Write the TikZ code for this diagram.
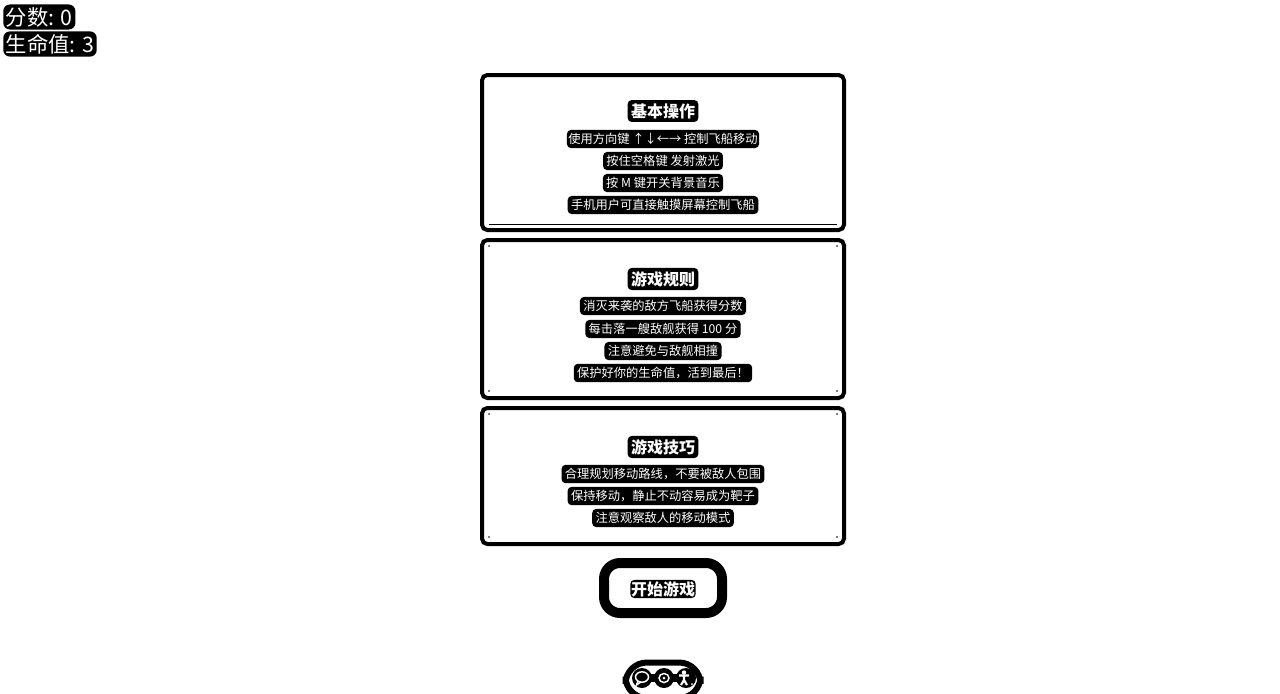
\documentclass[tikz,border=0pt]{standalone}
\usepackage{fontspec}
\setmainfont{Noto Sans CJK SC}
\tikzset{
  card/.style={draw=black, line width=3pt, rounded corners=4pt},
  halo/.style={fill=black, text=white, rounded corners=3pt, inner xsep=2.5pt, inner ysep=2.5pt},
  cardtitle/.style={halo, font=\fontsize{12}{14}\selectfont\bfseries},
  cardline/.style={halo, font=\fontsize{9.2}{11}\selectfont},
  score/.style={halo, font=\fontsize{16}{18}\selectfont, anchor=west, inner xsep=2pt, inner ysep=2pt, rounded corners=5pt},
  iconline/.style={draw=white, line width=1.1pt},
}
\begin{document}
\begin{tikzpicture}[x=0.75pt, y=-0.75pt]
\useasboundingbox (0,0) rectangle (1280,693);
\fill[white] (0,0) rectangle (1280,693);
% score
\node[score] (lifelabel) at (3,44) {生命值: 3};
\node[score] (scorelabel) at (3,17) {分数: 0};
% cards
\draw[card] (482,75) rectangle (844,230);
\draw[card] (482,240) rectangle (844,398);
\draw[card] (482,408) rectangle (844,544);
\draw[line width=0.6pt] (489,224) -- (837,224); % rule
\foreach \px/\py in {489/246,837/246,489/391,837/391,489/414,837/414,489/537,837/537}
  \fill (\px,\py) circle (0.7pt);
% card one
\node[cardtitle] (basictitle) at (663,111) {基本操作};
\node[cardline, inner xsep=1pt] (basica) at (663,139) {使用方向键 ↑↓←→ 控制飞船移动};
\node[cardline] (basicb) at (663,161) {按住空格键 发射激光};
\node[cardline] (basicc) at (663,183) {按 M 键开关背景音乐};
\node[cardline] (basicd) at (663,205) {手机用户可直接触摸屏幕控制飞船};
% card two
\node[cardtitle] (ruletitle) at (663,279) {游戏规则};
\node[cardline] (rulea) at (663,306) {消灭来袭的敌方飞船获得分数};
\node[cardline] (ruleb) at (663,329) {每击落一艘敌舰获得 100 分};
\node[cardline] (rulec) at (663,351) {注意避免与敌舰相撞};
\node[cardline] (ruled) at (663,373) {保护好你的生命值，活到最后！};
% card three
\node[cardtitle] (tiptitle) at (663,447) {游戏技巧};
\node[cardline] (tipa) at (663,474) {合理规划移动路线，不要被敌人包围};
\node[cardline] (tipb) at (663,496) {保持移动，静止不动容易成为靶子};
\node[cardline] (tipc) at (663,518) {注意观察敌人的移动模式};
% start button
\draw[line width=7.5pt, rounded corners=12pt] (604,563) rectangle (722,613);
\node[cardtitle, inner xsep=0.5pt, inner ysep=1pt] (startbtn) at (663,589) {开始游戏};
% bottom pill
\begin{scope}
\clip (0,0) rectangle (1280,693);
\draw[line width=4.5pt, rounded corners=16pt] (625.5,662.5) rectangle (700.5,698);
\fill (642,674) rectangle (686,682);
\fill (642,678) circle (10);
\fill (664,678) circle (10);
\fill (686,678) circle (10);
\end{scope}
\draw[iconline] (642,677) ellipse (6.5 and 5.2); % chat
\draw[iconline] (638,681) -- (636.5,685) -- (641,682);
\draw[iconline] (664,678) ellipse (5 and 4.5); % eye
\fill[white] (664,678) circle (1.5);
\fill[white] (684,672.5) circle (2.2); % person
\draw[iconline, line width=1.6pt] (679,675.5) -- (689,675.5) (684,675) -- (684,680) -- (681,685) (684,680) -- (687,685);
\fill[white] (692,684) circle (1);
\end{tikzpicture}
\end{document}
